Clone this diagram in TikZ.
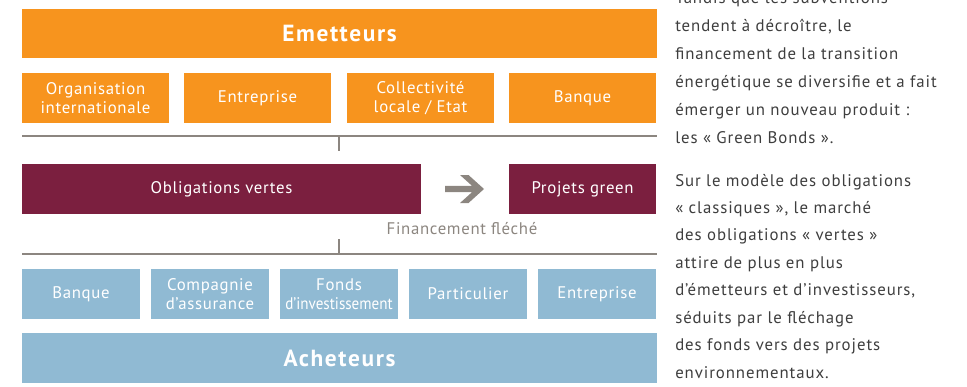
\documentclass[tikz,border=0pt]{standalone}
\usepackage{fontspec}
\usepackage{graphicx}
\setmainfont{PT Sans}
\newfontfamily\boxfont[LetterSpace=4]{PT Sans}
\newfontfamily\titlefont[LetterSpace=7]{PT Sans}
\newfontfamily\sidefont[LetterSpace=5.5]{PT Sans}
\usetikzlibrary{calc}

\definecolor{emit}{RGB}{247,148,30}
\definecolor{bond}{RGB}{123,31,63}
\definecolor{buyer}{RGB}{144,186,211}
\definecolor{rulegray}{RGB}{140,134,128}
\definecolor{bodytext}{RGB}{62,62,62}

\begin{document}
\begin{tikzpicture}[x=0.75pt,y=-0.75pt,
  band/.style={fill=#1, text=white, inner sep=0pt, minimum width=476.25pt,
    minimum height=37.5pt, font=\titlefont\bfseries\fontsize{17.5}{20}\selectfont},
  cell/.style={fill=#1, text=white, inner sep=0pt, minimum height=37.5pt,
    align=center, font=\boxfont\fontsize{12.6}{14.4}\selectfont},
  orangecell/.style={cell=emit, minimum width=110.25pt},
  bluecell/.style={cell=buyer, minimum width=88.5pt},
  bondcell/.style={cell=bond},
  rulebar/.style={draw=rulegray, line width=2.2pt},
  ruletick/.style={draw=rulegray, line width=1.6pt},
  note/.style={text=rulegray, font=\boxfont\fontsize{12.6}{14.4}\selectfont, inner sep=0pt},
  bodyline/.style={anchor=base west, inner sep=0pt, text=bodytext,
    font=\sidefont\fontsize{12.6}{15}\selectfont}
]
\useasboundingbox (0,0) rectangle (967,386);
\clip (0,0) rectangle (967,386);

% issuers
\node[band=emit, minimum height=36.75pt] (emet) at (339.5,33.5) {Emetteurs};
\node[orangecell] (e1) at (95.5,98)  {Organisation\\internationale};
\node[orangecell] (e2) at (257.5,98) {Entreprise};
\node[orangecell] (e3) at (420.5,98) {Collectivité\\locale / Etat};
\node[orangecell] (e4) at (582.5,98) {Banque};

% separator between issuers and bonds
\coordinate (r1l) at (22,136);
\coordinate (r1r) at (657,136);
\coordinate (r1m) at (339,136);
\coordinate (r1t) at (339,151);
\draw[rulebar] (r1l) -- (r1r);
\draw[ruletick] (r1m) -- (r1t);

% green bonds and projects
\node[bondcell, minimum width=299.25pt] (oblig) at (221.5,189) {Obligations vertes};
\node[bondcell, minimum width=110.25pt] (proj) at (582.5,189) {Projets green};
\coordinate (arr) at ($(oblig.east)!0.5!(proj.west)$);
\begin{scope}[shift={(arr)}]
  \fill[rulegray] (-20,-3.2) -- (7,-3.2) -- (-5,-14) -- (3.5,-14) -- (19,0)
    -- (3.5,14) -- (-5,14) -- (7,3.2) -- (-20,3.2) -- cycle;
\end{scope}
\node[note] (fin) at (462,229) {Financement fléché};

% separator between bonds and buyers
\coordinate (r2l) at (22,254);
\coordinate (r2r) at (657,254);
\coordinate (r2m) at (339,254);
\coordinate (r2t) at (339,239);
\draw[rulebar] (r2l) -- (r2r);
\draw[ruletick] (r2m) -- (r2t);

% buyers
\node[bluecell] (b1) at (81,294)  {Banque};
\node[bluecell] (b2) at (210,294) {Compagnie\\d’assurance};
\node[bluecell] (b3) at (339,294) {Fonds\\{\setmainfont{PT Sans}\scalebox{0.9}[1]{d’investissement}}};
\node[bluecell] (b4) at (468,294) {Particulier};
\node[bluecell] (b5) at (597,294) {Entreprise};
\node[band=buyer] (ach) at (339.5,358) {Acheteurs};

% side text
\foreach \t [count=\i] in {{Tandis que les subventions},{tendent à décroître, le},
  {financement de la transition},{énergétique se diversifie et a fait},
  {émerger un nouveau produit :},{les «~Green Bonds~».}}
  \node[bodyline] (pa\i) at (675,{3.5+28*(\i-1)}) {\t};
\foreach \t [count=\i] in {{Sur le modèle des obligations},{«~classiques~», le marché},
  {des obligations «~vertes~»},{attire de plus en plus},
  {d’émetteurs et d’investisseurs,},{séduits par le fléchage},
  {des fonds vers des projets},{environnementaux.}}
  \node[bodyline] (pb\i) at (675,{186+27.45*(\i-1)}) {\t};
\end{tikzpicture}
\end{document}
